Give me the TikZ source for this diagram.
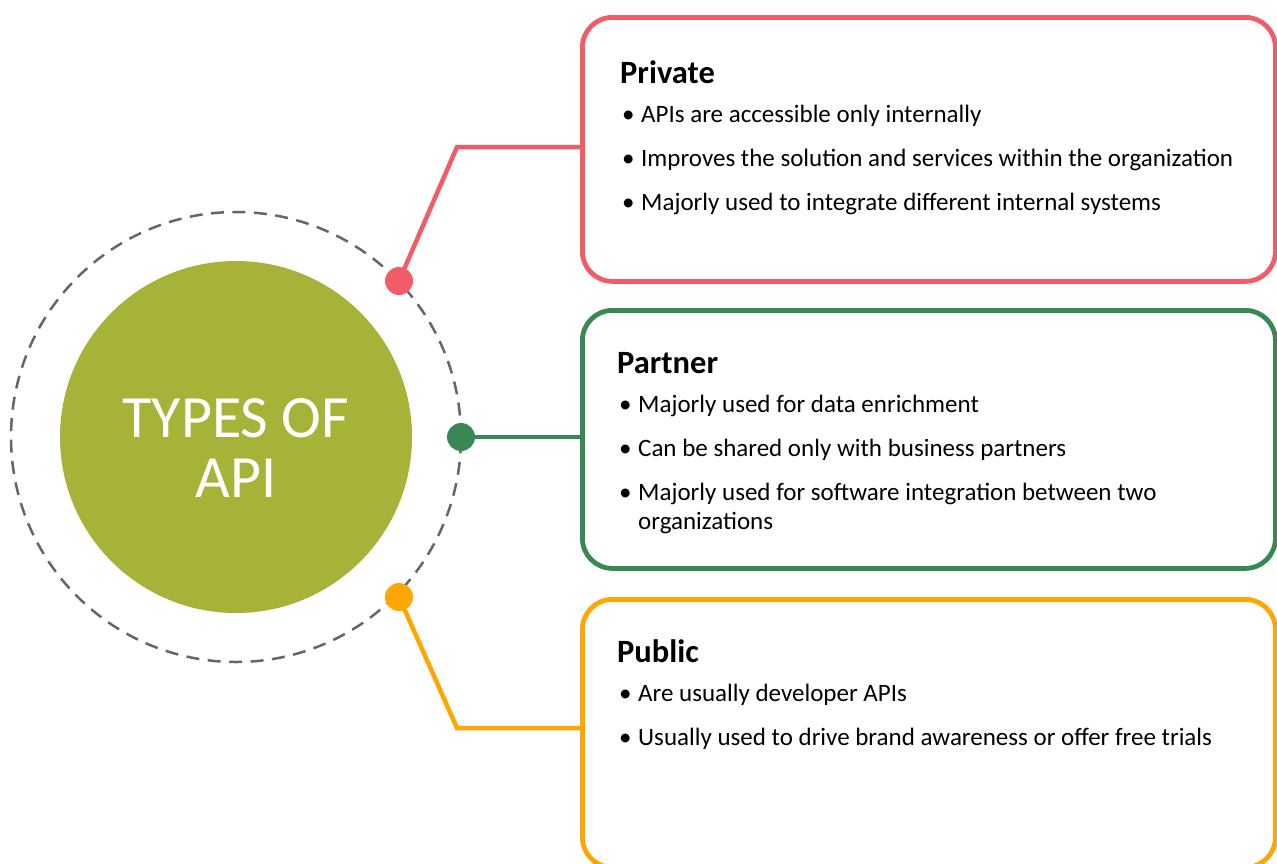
\documentclass[tikz,border=0pt]{standalone}
\usepackage{fontspec}
\setmainfont{Carlito}
\begin{document}
\definecolor{privred}{RGB}{242,92,102}
\definecolor{partgreen}{RGB}{57,135,83}
\definecolor{pubor}{RGB}{255,167,0}
\definecolor{hubolive}{RGB}{167,179,56}
\definecolor{ringgray}{RGB}{102,102,102}
\begin{tikzpicture}[x=1pt,y=-1pt,
  card/.style={draw, line width=4.8pt, rounded corners=30pt, fill=white,
    inner sep=0pt, anchor=north west},
  link/.style={line width=4.5pt, line join=miter},
  dot/.style={circle, fill, inner sep=0pt, minimum size=28pt},
  cardtitle/.style={anchor=base west, inner sep=0pt, font=\fontsize{32.5}{38}\selectfont\bfseries},
  item/.style={anchor=base west, inner sep=0pt, font=\fontsize{25}{30}\selectfont},
  hubtext/.style={anchor=base, inner sep=0pt, text=white, font=\fontsize{60}{64}\selectfont}]
\useasboundingbox (0,0) rectangle (1277,863);
\newcommand{\bul}{\makebox[19pt][l]{\textbullet}}

% central hub with dashed ring
\node[circle, draw=ringgray, line width=2.5pt, dash pattern=on 13pt off 8.5pt,
  minimum size=450pt, inner sep=0pt] (ring) at (236,437) {};
\node[circle, fill=hubolive, minimum size=352pt, inner sep=0pt] (hub) at (236,437) {};
\node[hubtext] (hubl1) at (236,437) {TYPES OF};
\node[hubtext] (hubl2) at (236,497) {API};

% cards
\node[card, draw=privred, minimum width=693pt, minimum height=264pt] (priv) at (580,15) {};
\node[card, draw=partgreen, minimum width=693pt, minimum height=258pt] (part) at (580,308) {};
\node[card, draw=pubor, minimum width=693pt, minimum height=268pt] (pub) at (580,597) {};

% connectors
\coordinate (kpriv) at (457,147);
\coordinate (kpub) at (457,728);
\node[dot, privred] (dpriv) at (399,281) {};
\node[dot, partgreen] (dpart) at (461,437) {};
\node[dot, pubor] (dpub) at (399,597) {};
\draw[link, privred] (dpriv.center) -- (kpriv) -- (kpriv -| priv.west);
\draw[link, partgreen] (dpart.center) -- (dpart -| part.west);
\draw[link, pubor] (dpub.center) -- (kpub) -- (kpub -| pub.west);

% Private
\node[cardtitle] (tpriv) at (620,83) {Private};
\node[item] (p1) at (622,122) {\bul APIs are accessible only internally};
\node[item] (p2) at (622,166) {\bul Improves the solution and services within the organization};
\node[item] (p3) at (622,210) {\bul Majorly used to integrate different internal systems};

% Partner
\node[cardtitle] (tpart) at (617,373) {Partner};
\node[item] (q1) at (619,412) {\bul Majorly used for data enrichment};
\node[item] (q2) at (619,456) {\bul Can be shared only with business partners};
\node[item] (q3) at (619,500) {\bul Majorly used for software integration between two};
\node[item] (q4) at (638,529) {organizations};

% Public
\node[cardtitle] (tpub) at (617,662) {Public};
\node[item] (r1) at (619,701) {\bul Are usually developer APIs};
\node[item] (r2) at (619,745) {\bul Usually used to drive brand awareness or offer free trials};
\end{tikzpicture}
\end{document}
